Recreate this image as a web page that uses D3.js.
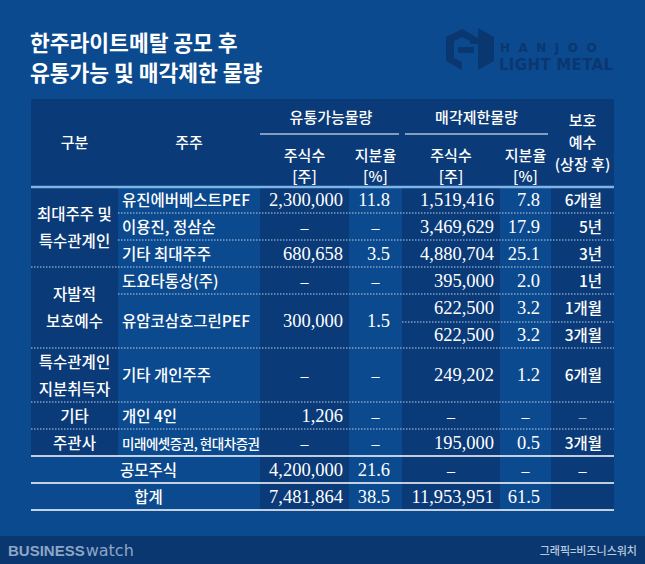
<!DOCTYPE html>
<html><head><meta charset="utf-8">
<script src="https://cdn.jsdelivr.net/npm/d3@7"></script>
<style>body{margin:0;background:#0c4a8f;}</style>
</head><body>
<script>
// table values
const titleLines = ["한주라이트메탈 공모 후", "유통가능 및 매각제한 물량"];
const groups = [
  {label: ["최대주주 및", "특수관계인"], start: 0, span: 3},
  {label: ["자발적", "보호예수"], start: 3, span: 3},
  {label: ["특수관계인", "지분취득자"], start: 6, span: 1},
  {label: ["기타"], start: 7, span: 1},
  {label: ["주관사"], start: 8, span: 1}
];
// holder, float shares, float %, restricted shares, restricted %, lockup; span = rows the first four cells cover
const rows = [
  ["유진에버베스트PEF", "2,300,000", "11.8", "1,519,416", "7.8", "6개월", 1],
  ["이용진, 정삼순", "–", "–", "3,469,629", "17.9", "5년", 1],
  ["기타 최대주주", "680,658", "3.5", "4,880,704", "25.1", "3년", 1],
  ["도요타통상(주)", "–", "–", "395,000", "2.0", "1년", 1],
  ["유암코삼호그린PEF", "300,000", "1.5", "622,500", "3.2", "1개월", 2],
  [null, null, null, "622,500", "3.2", "3개월", 0],
  ["기타 개인주주", "–", "–", "249,202", "1.2", "6개월", 1],
  ["개인 4인", "1,206", "–", "–", "–", "–", 1],
  ["미래에셋증권, 현대차증권", "–", "–", "195,000", "0.5", "3개월", 1]
];
const rowHeights = [26, 27, 27, 27, 28, 26, 54, 27, 27];
const totals = [
  ["공모주식", "4,200,000", "21.6", "–", "–", "–"],
  ["합계", "7,481,864", "38.5", "11,953,951", "61.5", ""]
];

const W = 645, H = 564;
const svg = d3.select("body").append("svg").attr("width", W).attr("height", H);
const kr = "'Noto Sans CJK KR', 'Noto Sans', sans-serif";
const num = "'Liberation Serif', serif";
const dark = "#0a3a78", light = "#0c4a8f";
const numSize = 18.5;

svg.append("rect").attr("width", W).attr("height", H).attr("fill", light);
svg.append("rect").attr("y", 536).attr("width", W).attr("height", 28).attr("fill", "#0a376f");

// title
svg.selectAll(".title").data(titleLines).enter().append("text")
  .attr("x", 30).attr("y", (d, i) => 51 + i * 30)
  .attr("fill", "#fff").attr("font-family", kr).attr("font-weight", 700).attr("font-size", 21.5)
  .text(d => d);

// logo
const logo = svg.append("g").attr("fill", "#0a3770");
logo.append("path").attr("d", "M462 29 L478 38 L478 44 L470 44 L470 41 L462 37 L454 41 L454 58 L462 62 L462 70 L446 61 L446 37 Z M478 70 L494 61 L494 37 L478 28 Z");
logo.append("rect").attr("x", 458).attr("y", 47).attr("width", 16).attr("height", 6);
logo.append("text").attr("x", 500).attr("y", 52).attr("font-family", "'DejaVu Sans', sans-serif")
  .attr("font-weight", 700).attr("font-size", 12).attr("letter-spacing", 8.5).text("HANJOO");
logo.append("text").attr("x", 499).attr("y", 70).attr("font-family", "'DejaVu Sans', sans-serif")
  .attr("font-weight", 700).attr("font-size", 15).attr("textLength", 114).text("LIGHT METAL");

// columns
const colEdges = [31, 118, 260, 349, 402, 500, 551, 614];
const x = d3.scaleOrdinal().domain(d3.range(8)).range(colEdges);
const darkCols = [0, 2, 4, 6];
const headTop = 99, headBot = 187, subLine = 134;
const rowY = d3.cumsum([headBot, ...rowHeights]);
const tableBot = rowY[rowY.length - 1];
const totalH = 27;

svg.selectAll(".dcol").data(darkCols).enter().append("rect")
  .attr("x", d => x(d)).attr("y", headTop)
  .attr("width", d => x(d + 1) - x(d)).attr("height", tableBot - headTop + totalH * 2)
  .attr("fill", dark);
[1, 3, 5].forEach(c => svg.append("rect").attr("x", x(c)).attr("y", headTop).attr("width", x(c + 1) - x(c))
  .attr("height", headBot - headTop).attr("fill", dark));
// total rows span the first two columns on the light background
svg.append("rect").attr("x", x(0)).attr("y", tableBot).attr("width", x(2) - x(0))
  .attr("height", totalH * 2).attr("fill", light);

function txt(g, s, xx, yy, anchor, font, size, weight) {
  return g.append("text").attr("x", xx).attr("y", yy).attr("text-anchor", anchor)
    .attr("fill", "#fff").attr("font-family", font).attr("font-size", size)
    .attr("font-weight", weight || 400).text(s);
}
const mid = i => (x(i) + x(i + 1)) / 2;
const isKr = s => /[가-힣]/.test(s);

// header
const hd = svg.append("g");
txt(hd, "구분", mid(0), 148, "middle", kr, 15, 500);
txt(hd, "주주", mid(1), 148, "middle", kr, 15, 500);
txt(hd, "유통가능물량", (x(2) + x(4)) / 2, 123, "middle", kr, 15, 500);
txt(hd, "매각제한물량", (x(4) + x(6)) / 2, 123, "middle", kr, 15, 500);
hd.append("line").attr("x1", x(2)).attr("x2", x(4) - 3).attr("y1", subLine).attr("y2", subLine).attr("stroke", "#fff").attr("stroke-width", 1.2);
hd.append("line").attr("x1", x(4) + 3).attr("x2", x(6) - 3).attr("y1", subLine).attr("y2", subLine).attr("stroke", "#fff").attr("stroke-width", 1.2);
[2, 3, 4, 5].forEach(c => {
  txt(hd, c % 2 === 0 ? "주식수" : "지분율", mid(c), 161, "middle", kr, 15, 500);
  txt(hd, c % 2 === 0 ? "[주]" : "[%]", mid(c), 182, "middle", kr, 15, 500);
});
["보호", "예수", "(상장 후)"].forEach((s, i) => txt(hd, s, mid(6), 126 + i * 22, "middle", kr, 15, 500));
hd.append("line").attr("x1", x(0)).attr("x2", x(7)).attr("y1", headBot).attr("y2", headBot)
  .attr("stroke", "#7fb4e6").attr("stroke-width", 2.5);

// body
const body = svg.append("g");
const dotted = (x1, x2, y) => body.append("line").attr("x1", x1).attr("x2", x2).attr("y1", y).attr("y2", y)
  .attr("stroke", "#b9cde6").attr("stroke-width", 1).attr("stroke-dasharray", "1.5 1.5");

const cellRight = [0, 0, 343, 390, 494, 540, 602];
rows.forEach((r, i) => {
  const y0 = rowY[i], span = r[6];
  if (span > 0) {
    const yc = (y0 + rowY[i + span]) / 2 + 6;
    txt(body, r[0], x(1) + 4, yc, "start", kr, r[0].length > 12 ? 13.5 : 15.5, 500)
      .attr("textLength", r[0].length > 12 ? 138 : null);
    [1, 2].forEach(k => {
      const s = r[k];
      if (s === "–") txt(body, s, mid(k + 1), yc, "middle", num, 16);
      else txt(body, s, cellRight[k + 1], yc, "end", num, numSize);
    });
  }
  const yc = (y0 + rowY[i + 1]) / 2 + 6;
  [3, 4].forEach(k => {
    const s = r[k];
    if (s === "–") txt(body, s, mid(k + 1), yc, "middle", num, 16);
    else txt(body, s, cellRight[k + 1], yc, "end", num, numSize);
  });
  txt(body, r[5], r[5] === "–" ? mid(6) : cellRight[6], yc, r[5] === "–" ? "middle" : "end", isKr(r[5]) ? kr : num, 15.5, 500);
  if (i > 0) {
    const grpStart = groups.some(g => g.start === i);
    dotted(grpStart ? x(0) : (span === 0 ? x(4) : x(1)), x(7), y0);
  }
});
groups.forEach(g => {
  const yc = (rowY[g.start] + rowY[g.start + g.span]) / 2;
  const n = g.label.length;
  g.label.forEach((s, j) => txt(body, s, mid(0), yc + 6 + (j - (n - 1) / 2) * 27, "middle", kr, 15.5, 500));
});

// totals
totals.forEach((r, i) => {
  const y0 = tableBot + i * totalH, yc = y0 + totalH / 2 + 6;
  body.append("line").attr("x1", x(0)).attr("x2", x(7)).attr("y1", y0).attr("y2", y0).attr("stroke", "#fff").attr("stroke-width", 1.3);
  txt(body, r[0], (x(0) + x(2)) / 2 + 3, yc, "middle", kr, 15.5, 500);
  r.slice(1).forEach((s, k) => {
    const c = k + 2;
    if (s === "–") txt(body, s, mid(c), yc, "middle", num, 16);
    else txt(body, s, cellRight[c], yc, "end", num, numSize);
  });
});
body.append("line").attr("x1", x(0)).attr("x2", x(7)).attr("y1", tableBot + totalH * 2).attr("y2", tableBot + totalH * 2)
  .attr("stroke", "#fff").attr("stroke-width", 1.3);

// footer
const ft = svg.append("g");
ft.append("text").attr("x", 8).attr("y", 556).attr("fill", "#8ea6c6")
  .attr("font-family", "'Liberation Sans Narrow', 'Liberation Sans', sans-serif").attr("font-weight", 700).attr("font-size", 15).text("BUSINESS")
  .append("tspan").attr("font-weight", 400).attr("font-family", "'DejaVu Sans', sans-serif").attr("font-size", 16).attr("dx", 1).text("watch");
txt(ft, "그래픽=비즈니스워치", 637, 555, "end", kr, 11, 500).attr("fill", "#b8c8de");
</script>
</body></html>
